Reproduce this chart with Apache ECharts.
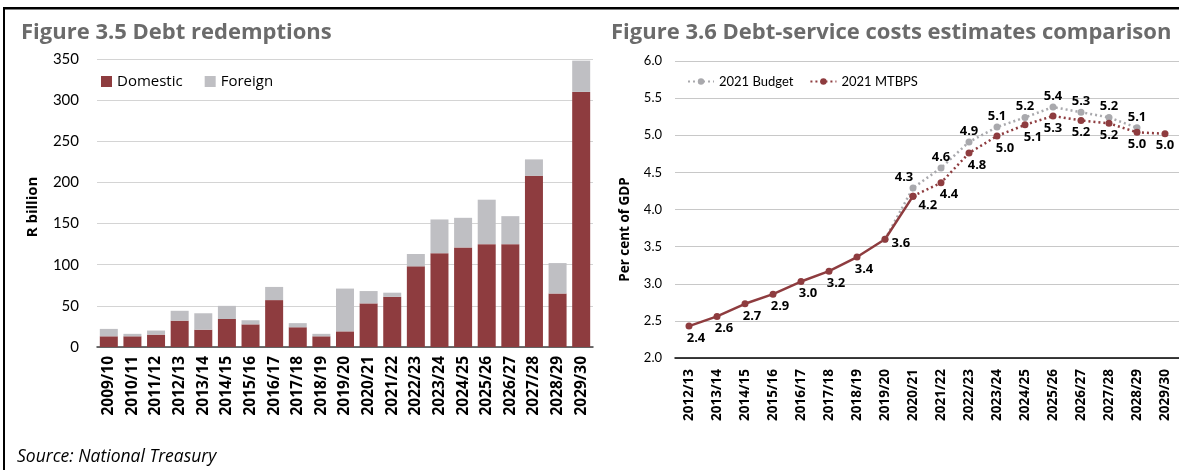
<!DOCTYPE html>
<html>
<head>
<meta charset="utf-8">
<script src="https://cdn.jsdelivr.net/npm/echarts@6/dist/echarts.min.js"></script>
<style>
  html, body { margin: 0; padding: 0; background: #fff; }
  #chart { width: 1179px; height: 470px; }
</style>
</head>
<body>
<div id="chart"></div>
<script>
// Figure 3.5 data (R billion)
const years35 = ['2009/10', '2010/11', '2011/12', '2012/13', '2013/14', '2014/15', '2015/16',
  '2016/17', '2017/18', '2018/19', '2019/20', '2020/21', '2021/22', '2022/23', '2023/24',
  '2024/25', '2025/26', '2026/27', '2027/28', '2028/29', '2029/30']
const domestic = [13, 13, 15, 32, 21, 34, 27.5, 57, 24, 13, 19, 53, 61, 98, 114, 121, 125, 125, 208, 65, 310]
const foreign = [9, 3, 5, 12, 20, 16, 5, 16, 5, 3, 52, 15, 5, 15, 41, 36, 54, 34, 20, 37, 38]
const ticks35 = [0, 50, 100, 150, 200, 250, 300, 350]

// Figure 3.6 data (per cent of GDP)
const years36 = ['2012/13', '2013/14', '2014/15', '2015/16', '2016/17', '2017/18', '2018/19',
  '2019/20', '2020/21', '2021/22', '2022/23', '2023/24', '2024/25', '2025/26', '2026/27',
  '2027/28', '2028/29', '2029/30']
const outcome = [2.43, 2.56, 2.73, 2.86, 3.03, 3.17, 3.36, 3.60, 4.18, null, null, null, null, null, null, null, null, null]
const budget2021 = [null, null, null, null, null, null, null, 3.60, 4.29, 4.56, 4.91, 5.11, 5.24, 5.38, 5.31, 5.24, 5.10, null]
const mtbps2021 = [null, null, null, null, null, null, null, null, 4.18, 4.36, 4.76, 4.99, 5.14, 5.26, 5.20, 5.16, 5.04, 5.02]
const ticks36 = [2.0, 2.5, 3.0, 3.5, 4.0, 4.5, 5.0, 5.5, 6.0]

const RED = '#8e3c3f'
const GREY = '#bfbfc3'
const LINE_GREY = '#a9a9ad'
const FONT = 'Lato, "Open Sans", sans-serif'
const WIDE = '"Open Sans", Lato, sans-serif'

const chart = echarts.init(document.getElementById('chart'))

// point labels for the line chart
const fmt = p => p.value == null ? '' : Number(p.value).toFixed(1)
const labelText = { fontFamily: WIDE, fontWeight: 'bold', fontSize: 13, color: '#000' }

const outcomeData = outcome.map((v, i) => {
  let label = { position: 'bottom', distance: 2, offset: [7, 0] }
  if (i === 7) label = { position: 'right', distance: 3, offset: [0, 4] }
  if (i === 8) label = { position: 'right', distance: 2, offset: [0, 9] }
  return { value: v, label }
})
const budgetData = budget2021.map((v, i) => {
  let label = { position: 'top', distance: 1 }
  if (i === 7) label = { show: false }
  if (i === 8) label = { position: 'top', distance: 1, offset: [-9, 0] }
  return { value: v, label }
})
const mtbpsData = mtbps2021.map((v, i) => {
  let label = { position: 'bottom', distance: 2 }
  if (i === 8) label = { show: false }
  if (i >= 9 && i <= 12) label = { position: 'bottom', distance: 2, offset: [8, 0] }
  return { value: v, label }
})

const option = {
  animation: false,
  textStyle: { fontFamily: FONT },
  title: [
    {
      text: 'Figure 3.5 Debt redemptions', left: 16, top: 17,
      textStyle: { fontFamily: WIDE, fontSize: 22, fontWeight: 'bold', color: '#6b6b6b' }
    },
    {
      text: 'Figure 3.6 Debt-service costs estimates comparison', left: 606, top: 17,
      textStyle: { fontFamily: WIDE, fontSize: 22, fontWeight: 'bold', color: '#6b6b6b' }
    }
  ],
  legend: [
    {
      left: 96, top: 69, itemWidth: 11, itemHeight: 11, itemGap: 22,
      icon: 'rect',
      data: ['Domestic', 'Foreign'],
      textStyle: { fontFamily: WIDE, fontSize: 15, color: '#000' }
    },
    {
      left: 682, top: 70, itemWidth: 26, itemHeight: 8, itemGap: 16,
      data: ['2021 Budget', '2021 MTBPS'],
      textStyle: { fontFamily: FONT, fontSize: 13, color: '#000' }
    }
  ],
  grid: [
    { left: 97, top: 59, width: 496, height: 288 },
    { left: 675, top: 61, width: 506, height: 297 }
  ],
  xAxis: [
    {
      type: 'category', gridIndex: 0, data: years35,
      axisLine: { lineStyle: { color: '#404040', width: 1.5 } },
      axisTick: { show: false },
      axisLabel: { rotate: 90, margin: 9, fontFamily: WIDE, fontSize: 15.5, fontWeight: 'bold', color: '#000' }
    },
    {
      type: 'category', gridIndex: 1, data: years36,
      axisLine: { lineStyle: { color: '#000', width: 1.5 } },
      axisTick: { show: false },
      axisLabel: { rotate: 90, margin: 11, fontFamily: WIDE, fontSize: 13.5, fontWeight: 'bold', color: '#000' }
    }
  ],
  yAxis: [
    {
      type: 'value', gridIndex: 0,
      min: ticks35[0], max: ticks35[ticks35.length - 1], interval: 50,
      name: 'R billion', nameLocation: 'middle', nameRotate: 90, nameGap: 57,
      nameTextStyle: { fontFamily: WIDE, fontSize: 15, fontWeight: 'bold', color: '#000', padding: [0, 8, 0, 0] },
      axisLine: { show: false }, axisTick: { show: false },
      axisLabel: { margin: 18, fontFamily: FONT, fontSize: 15, color: '#000' },
      splitLine: { lineStyle: { color: '#d4d4d4', width: 1.2 } }
    },
    {
      type: 'value', gridIndex: 1,
      min: ticks36[0], max: ticks36[ticks36.length - 1], interval: 0.5,
      name: 'Per cent of GDP', nameLocation: 'middle', nameRotate: 90, nameGap: 43,
      nameTextStyle: { fontFamily: WIDE, fontSize: 13.5, fontWeight: 'bold', color: '#000', padding: [0, 40, 0, 0] },
      axisLine: { show: false }, axisTick: { show: false },
      axisLabel: { margin: 13, fontFamily: FONT, fontSize: 13, color: '#000', formatter: v => v.toFixed(1) },
      splitLine: { lineStyle: { color: '#c8c8c8', width: 1.2 } }
    }
  ],
  series: [
    {
      name: 'Domestic', type: 'bar', stack: 'total', xAxisIndex: 0, yAxisIndex: 0,
      barWidth: 18, data: domestic, itemStyle: { color: RED }
    },
    {
      name: 'Foreign', type: 'bar', stack: 'total', xAxisIndex: 0, yAxisIndex: 0,
      barWidth: 18, data: foreign, itemStyle: { color: GREY }
    },
    {
      name: '2021 Budget', type: 'line', xAxisIndex: 1, yAxisIndex: 1,
      data: budgetData, symbol: 'circle', symbolSize: 7,
      lineStyle: { color: LINE_GREY, width: 2.5, type: [2, 3] },
      itemStyle: { color: LINE_GREY },
      label: { show: true, formatter: fmt, ...labelText }
    },
    {
      name: '2021 MTBPS', type: 'line', xAxisIndex: 1, yAxisIndex: 1,
      data: mtbpsData, symbol: 'circle', symbolSize: 7,
      lineStyle: { color: RED, width: 2.5, type: [2, 3] },
      itemStyle: { color: RED },
      label: { show: true, formatter: fmt, ...labelText }
    },
    {
      name: 'Outcome', type: 'line', xAxisIndex: 1, yAxisIndex: 1,
      data: outcomeData, symbol: 'circle', symbolSize: 7,
      lineStyle: { color: RED, width: 2.5 },
      itemStyle: { color: RED },
      label: { show: true, formatter: fmt, ...labelText },
      z: 3
    }
  ],
  graphic: [
    { type: 'rect', shape: { x: 3, y: 7, width: 1176, height: 2.5 }, style: { fill: '#000' } },
    { type: 'rect', shape: { x: 3, y: 7, width: 2, height: 463 }, style: { fill: '#000' } },
    {
      type: 'text', left: 17, top: 448,
      style: { text: 'Source: National Treasury', fontFamily: WIDE, fontSize: 17.5, fontStyle: 'italic', fill: '#000' }
    }
  ]
}

chart.setOption(option)
</script>
</body>
</html>
